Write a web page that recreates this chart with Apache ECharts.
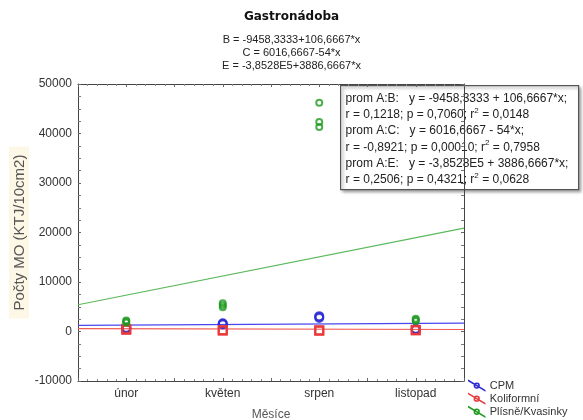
<!DOCTYPE html>
<html><head><meta charset="utf-8">
<script src="https://cdn.jsdelivr.net/npm/echarts@6/dist/echarts.min.js"></script>
<style>html,body{margin:0;padding:0;background:#fff}#c{width:583px;height:420px}</style>
</head><body><div id="c"></div>
<script>
var categories = ['únor', 'květen', 'srpen', 'listopad'];
var seriesNames = ['CPM', 'Koliformní', 'Plísně/Kvasinky'];
// replicate values per month (CFU / 10 cm2)
var cpmValues = [[500, 650, 750], [1400, 1550, 1650], [2750, 2950, 3100], [350, 450, 550]];
var koliValues = [[300, 450, 550], [150, 250, 300], [150, 200, 250], [200, 300, 350]];
var plisneValues = [[1800, 2000, 2200], [4900, 5300, 5700], [41300, 42300, 46200], [2100, 2300, 2600]];
// fitted trend lines, value at left edge and right edge of plot
var trendX = [0.5, 4.5];
var cpmTrend = [1250, 1700];
var koliTrend = [600, 400];
var plisneTrend = [5400, 20900];
var yTicks = [-10000, 0, 10000, 20000, 30000, 40000, 50000];
var equations = ['B = -9458,3333+106,6667*x', 'C = 6016,6667-54*x', 'E = -3,8528E5+3886,6667*x'];
var boxLines = [
  'prom A:B:   y = -9458,3333 + 106,6667*x;',
  'r = 0,1218; p = 0,7060; r{s|2} = 0,0148',
  'prom A:C:   y = 6016,6667 - 54*x;',
  'r = -0,8921; p = 0,00010; r{s|2} = 0,7958',
  'prom A:E:   y = -3,8528E5 + 3886,6667*x;',
  'r = 0,2506; p = 0,4321; r{s|2} = 0,0628'
];

var colors = ['#2b2bd6', '#e8383a', '#1f9a1f'];
var lineColors = ['#4848f0', '#f25a50', '#5cb85c'];
var symbols = ['circle', 'rect', 'circle'];
var symbolSizes = [8, 8, 6];
var allValues = [cpmValues, koliValues, plisneValues];
var trends = [cpmTrend, koliTrend, plisneTrend];

function pts(vals) {
  var out = [];
  vals.forEach(function (arr, i) { arr.forEach(function (v) { out.push([i + 1, v]); }); });
  return out;
}
var series = [];
for (var k = 0; k < 3; k++) {
  series.push({
    type: 'line', name: seriesNames[k], xAxisIndex: 0, yAxisIndex: 0,
    data: trendX.map(function (x, j) { return [x, trends[k][j]]; }),
    symbol: 'none', lineStyle: { color: lineColors[k], width: 1.2 }, silent: true, z: 2
  });
}
for (var k2 = 0; k2 < 3; k2++) {
  series.push({
    type: 'scatter', name: seriesNames[k2], xAxisIndex: 0, yAxisIndex: 0,
    data: pts(allValues[k2]), symbol: symbols[k2], symbolSize: symbolSizes[k2],
    itemStyle: { color: 'rgba(255,255,255,0)', borderColor: colors[k2], borderWidth: 2 }, z: 3 + k2
  });
}
function legendIcon() {
  return 'path://M0,0L20,12L20,12.01L0,0.01Z M7,6a3,3 0 1,0 6,0a3,3 0 1,0 -6,0Z';
}
var chart = echarts.init(document.getElementById('c'), null, { renderer: 'canvas' });
chart.setOption({
  animation: false,
  title: {
    text: 'Gastronádoba', left: 'center', top: 6,
    textStyle: { fontFamily: 'DejaVu Sans', fontWeight: 'bold', fontSize: 12, color: '#111' },
    subtext: equations.join('\n'), itemGap: 10,
    subtextStyle: { fontFamily: 'Liberation Sans', fontSize: 11, color: '#222', lineHeight: 13, align: 'center' }
  },
  legend: {
    orient: 'vertical', left: 468, top: 380, itemGap: 2, itemWidth: 16, itemHeight: 10, padding: 0,
    textStyle: { fontFamily: 'Liberation Sans', fontSize: 11, color: '#333', lineHeight: 11, padding: [0, 0, 0, 0] },
    data: seriesNames.map(function (n, i) {
      return { name: n, icon: legendIcon(), itemStyle: { color: 'rgba(0,0,0,0)', borderColor: colors[i], borderWidth: 1.5 } };
    })
  },
  grid: { left: 78, right: 119, top: 84, bottom: 39, show: false, containLabel: false, outerBoundsMode: 'none' },
  xAxis: [{
    type: 'value', min: 0.5, max: 4.5, interval: 0.5,
    name: 'Měsíce', nameLocation: 'middle', nameGap: 28,
    nameTextStyle: { fontFamily: 'Liberation Sans', fontSize: 12, color: '#555' },
    axisLine: { onZero: false, lineStyle: { color: '#444' } },
    axisTick: { inside: true, length: 3, lineStyle: { color: '#666' } },
    minorTick: { show: true, splitNumber: 5, length: 2, lineStyle: { color: '#888' } },
    splitLine: { show: false },
    axisLabel: {
      fontFamily: 'Liberation Sans', fontSize: 12, color: '#333', margin: 7,
      formatter: function (v) { return (Math.abs(v - Math.round(v)) < 1e-6 && v >= 1 && v <= 4) ? categories[Math.round(v) - 1] : ''; }
    }
  }, {
    type: 'value', position: 'top', min: 0.5, max: 4.5, interval: 0.5,
    axisLine: { onZero: false, lineStyle: { color: '#444' } },
    axisTick: { inside: true, length: 3, lineStyle: { color: '#666' } },
    minorTick: { show: true, splitNumber: 5, length: 2, lineStyle: { color: '#888' } },
    splitLine: { show: false }, axisLabel: { show: false }
  }],
  yAxis: [{
    type: 'value', min: yTicks[0], max: yTicks[yTicks.length - 1], interval: 10000,
    name: 'Počty MO (KTJ/10cm2)', nameLocation: 'middle', nameGap: 49, nameMoveOverlap: false,
    nameTextStyle: { fontFamily: 'Liberation Sans', fontSize: 15, color: '#555', backgroundColor: '#fdf7e6', padding: [3, 8, 2, 8] },
    axisLine: { show: true, onZero: false, lineStyle: { color: '#444' } },
    axisTick: { inside: true, length: 3, lineStyle: { color: '#666' } },
    minorTick: { show: true, splitNumber: 4, length: 3, lineStyle: { color: '#777' } },
    splitLine: { show: false },
    axisLabel: { fontFamily: 'Liberation Sans', fontSize: 12, color: '#333', margin: 6, formatter: function (v) { return String(v); } }
  }, {
    type: 'value', position: 'right', min: yTicks[0], max: yTicks[yTicks.length - 1], interval: 10000,
    axisLine: { show: true, onZero: false, lineStyle: { color: '#444' } },
    axisTick: { inside: true, length: 3, lineStyle: { color: '#666' } },
    minorTick: { show: true, splitNumber: 4, length: 3, lineStyle: { color: '#777' } },
    splitLine: { show: false }, axisLabel: { show: false }
  }],
  graphic: [{
    type: 'group', left: 340, top: 85, z: 100,
    children: [{
      type: 'rect', shape: { x: 0, y: 0, width: 238, height: 104 },
      style: { fill: '#fff', stroke: '#555', lineWidth: 1.2, shadowBlur: 3, shadowColor: 'rgba(0,0,0,0.35)', shadowOffsetX: 2, shadowOffsetY: 2 }
    }, {
      type: 'text', x: 5, y: 5,
      style: {
        text: boxLines.join('\n'), fill: '#222', font: '12px "Liberation Sans"', lineHeight: 16.2,
        rich: { s: { fontSize: 8, verticalAlign: 'top', lineHeight: 16.2, fill: '#222', padding: [0, 0, 6, 0] } }
      }
    }]
  }],
  series: series
});
</script></body></html>
